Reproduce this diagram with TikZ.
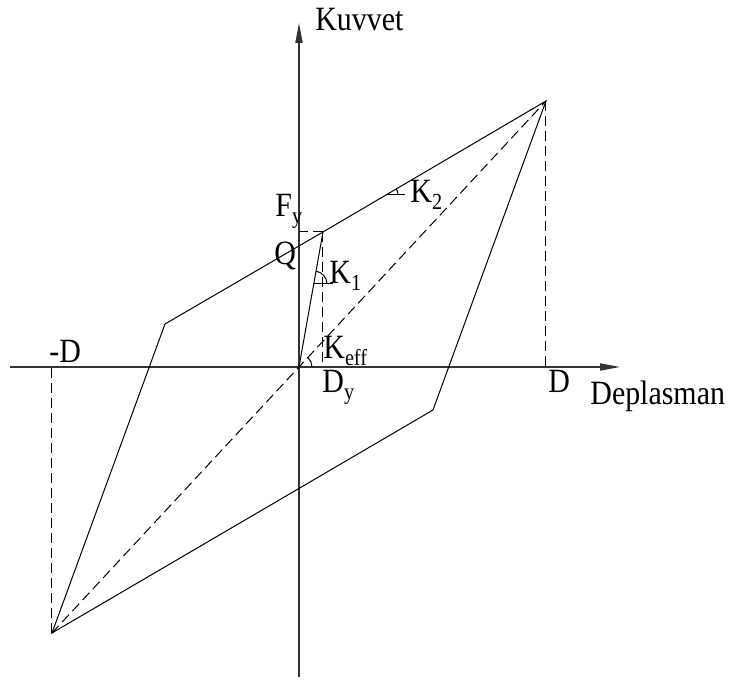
\documentclass[tikz,border=0pt]{standalone}
\usepackage{graphicx}
\usepackage{fontspec}
\setmainfont{Liberation Serif}
\usetikzlibrary{arrows.meta}

\newcommand{\lsub}[1]{\raisebox{-3.5pt}{\fontsize{11.5}{12}\selectfont #1}}
\newcommand{\cond}[1]{\scalebox{0.88}[1]{#1}}

\begin{document}
\begin{tikzpicture}[
  x=0.5pt, y=0.5pt,
  >={Triangle[length=10pt,width=3.6pt]},
  font=\fontsize{17}{19}\selectfont,
  axis/.style={->, line width=0.6pt, black!80},
  curve/.style={line width=0.5pt, line join=miter},
  guide/.style={line width=0.5pt, dash pattern=on 5pt off 2.5pt},
  lbl/.style={anchor=base west, inner sep=0pt}
]
\useasboundingbox (-299,-317) rectangle (430,367);
% key points of the loop
\coordinate (O) at (0,0);
\coordinate (P) at (247,266);
\coordinate (N) at (-247,-266);
\coordinate (Y) at (24,135);
\coordinate (L) at (-134,43);
\coordinate (R) at (134,-43);
% axes
\coordinate (xl) at (-289,0);
\coordinate (xr) at (321,0);
\coordinate (yb) at (0,-310);
\coordinate (yt) at (0,344);
\draw[axis] (xl) -- (xr);
\draw[axis] (yb) -- (yt);
% hysteresis loop
\draw[curve] (N) -- (L) -- (Y) -- (P) -- (R) -- cycle;
\draw[curve] (O) -- (Y);
% guide lines
\draw[guide] (N) -- (P);
\draw[guide] (P) -- (P |- O);
\draw[guide] (N) -- (N |- O);
\draw[guide] (Y) -- (Y -| O);
\draw[guide] (Y) -- (Y |- O);
% slope markers
\draw[curve] (15,83) -- (34,83);
\draw[curve] (28,83) arc[start angle=0, end angle=80, radius=13];
\draw[curve] (87,172) -- (106,172);
\draw[curve] (99,172) arc[start angle=0, end angle=30.4, radius=12];
\draw[curve] (13,0) arc[start angle=0, end angle=47, radius=13];
% labels
\node[lbl] (kuvvet) at (16,336) {\cond{Kuvvet}};
\node[lbl] (depl) at (291,-38) {\cond{Deplasman}};
\node[lbl] (dpos) at (249,-26) {\cond{D}};
\node[lbl] (dneg) at (-250,4) {\cond{-D}};
\node[lbl] (fy) at (-24,150) {\cond{F\lsub{y}}};
\node[lbl] (q) at (-25,102) {\cond{Q}};
\node[lbl] (k1) at (30,83) {\cond{K\lsub{1}}};
\node[lbl] (k2) at (111,164) {\cond{K\lsub{2}}};
\node[lbl] (keff) at (24,8) {\cond{K\lsub{eff}}};
\node[lbl] (dy) at (23,-26) {\cond{D\lsub{y}}};
\end{tikzpicture}
\end{document}
